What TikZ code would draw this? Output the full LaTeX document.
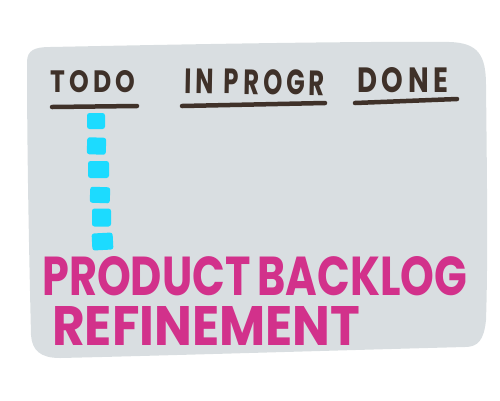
\documentclass[tikz,border=0pt]{standalone}
\usepackage{fontspec}
\usepackage{graphicx}
\newfontfamily\hand{Poppins}
\definecolor{board}{HTML}{D9DEE1}
\definecolor{ink}{HTML}{3F3129}
\definecolor{card}{HTML}{1CDBFF}
\definecolor{title}{HTML}{D2318B}
\newcommand{\fitto}[3]{\resizebox{#1bp}{#2bp}{\hand\bfseries #3}}
\tikzset{
  head/.style={inner sep=0pt, text=ink, anchor=north west},
  big/.style={inner sep=0pt, text=title, anchor=north west},
  rule/.style={draw=ink, line width=4.5bp, line cap=round},
  cardbox/.style={fill=card, rounded corners=2.5bp, inner sep=0pt}
}
\begin{document}
\begin{tikzpicture}[x=1bp,y=-1bp]
\useasboundingbox (0,0) rectangle (500,400);
% board
\fill[board] (27,62) .. controls (27,50) and (35,47) .. (50,47)
  .. controls (150,45) and (350,41) .. (450,42)
  .. controls (478,43) and (486,55) .. (486,85)
  .. controls (487,180) and (488,260) .. (486,320)
  .. controls (484,340) and (478,347) .. (465,347)
  .. controls (350,350) and (150,356) .. (60,358)
  .. controls (40,358) and (32,350) .. (31,335)
  .. controls (29,250) and (27,150) .. (27,62) -- cycle;
% headings
\node[head] (todo) at (50,70) {\fitto{85}{22}{T\,O\,D\,O}};
\node[head, rotate=-1] (prog) at (185,68) {\fitto{140}{25}{I\,N\hspace{0.4em}P\,R\,O\,G\,R}};
\node[head] (done) at (357,67) {\fitto{91}{25}{D\,O\,N\,E}};
% underlines
\coordinate (u1a) at (52,107); \coordinate (u1b) at (137,106);
\coordinate (u2a) at (182,106); \coordinate (u2b) at (325,103);
\coordinate (u3a) at (355,103); \coordinate (u3b) at (457,99);
\draw[rule] (u1a) -- (u1b);
\draw[rule] (u2a) -- (u2b);
\draw[rule] (u3a) -- (u3b);
% cards
\node[cardbox, minimum width=18bp, minimum height=16bp] (c1) at (96,121) {};
\node[cardbox, minimum width=19bp, minimum height=17bp, rotate=-2] (c2) at (96.5,146) {};
\node[cardbox, minimum width=21bp, minimum height=17bp] (c3) at (98.5,169.5) {};
\node[cardbox, minimum width=20bp, minimum height=16bp, rotate=-2] (c4) at (100,195) {};
\node[cardbox, minimum width=19bp, minimum height=18bp] (c5) at (101.5,217.5) {};
\node[cardbox, minimum width=21bp, minimum height=17bp, rotate=3] (c6) at (102.5,241.5) {};
% title
\node[big] (t1) at (42,256) {\fitto{425}{39}{PRODUCT\,BACKLOG}};
\node[big] (t2) at (52,306) {\fitto{308}{39}{REFINEMENT}};
\end{tikzpicture}
\end{document}
